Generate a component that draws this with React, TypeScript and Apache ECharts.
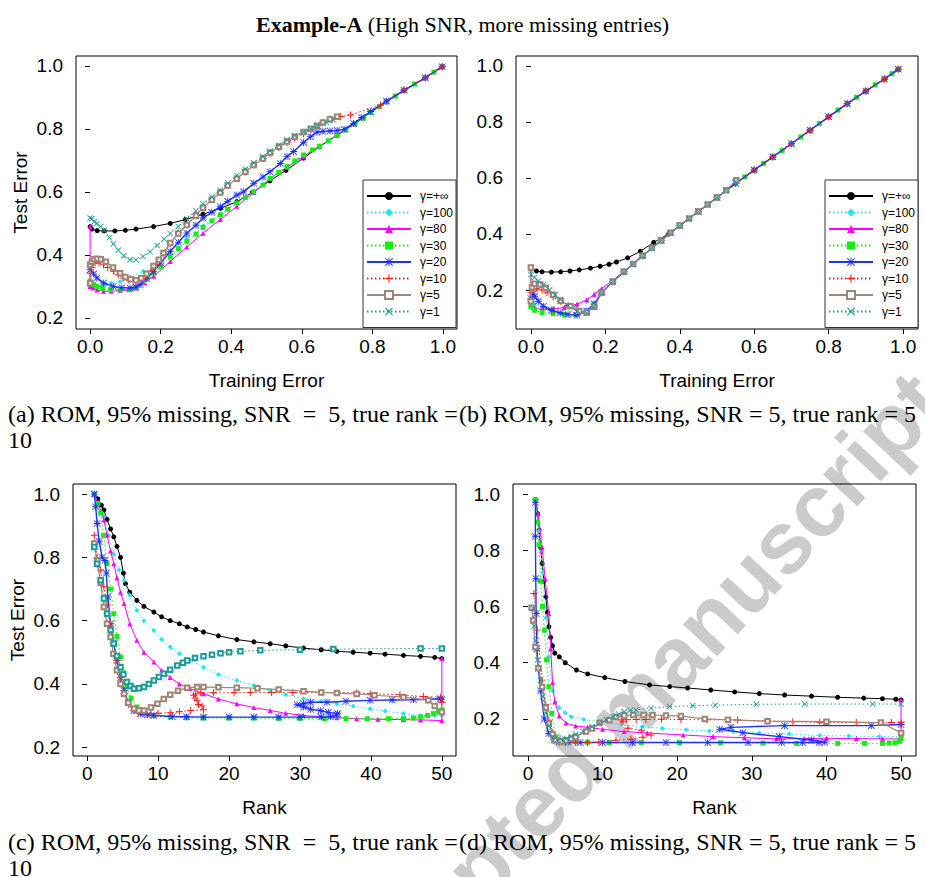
import React, { useEffect, useRef } from "react";
import * as echarts from "echarts";

// ---------- labels / ticks ----------
const NAMES = ["γ=+∞", "γ=100", "γ=80", "γ=30", "γ=20", "γ=10", "γ=5", "γ=1"];
const ERR_TICKS = [0, 0.2, 0.4, 0.6, 0.8, 1.0];
const Y_TICKS = [0.2, 0.4, 0.6, 0.8, 1.0];
const RANK_TICKS = [0, 10, 20, 30, 40, 50];
const CAPTIONS = [
  "(a) ROM, 95% missing, SNR\u2002=\u20025, true rank =",
  "(b) ROM, 95% missing, SNR = 5, true rank = 5",
  "(c) ROM, 95% missing, SNR\u2002=\u20025, true rank =",
  "(d) ROM, 95% missing, SNR = 5, true rank = 5",
];

// ---------- panel (a): test vs training error, true rank 10 ----------
const A_INF = [[0,0.49],[0.005,0.482],[0.02,0.477],[0.04,0.476],[0.07,0.476],[0.10,0.478],[0.13,0.482],[0.18,0.49],[0.227,0.50],[0.27,0.512],[0.32,0.529],[0.37,0.548],[0.416,0.569],[0.46,0.598],[0.51,0.635],[0.555,0.668],[0.605,0.707],[0.65,0.743],[0.70,0.78],[0.75,0.816],[0.795,0.852],[0.84,0.886],[0.89,0.922],[0.95,0.962],[0.998,0.997]];
const A_100 = [[0,0.30],[0.01,0.303],[0.038,0.305],[0.06,0.31],[0.085,0.316],[0.113,0.329],[0.151,0.348],[0.19,0.385],[0.227,0.411],[0.274,0.455],[0.32,0.492],[0.369,0.53],[0.416,0.566],[0.464,0.603],[0.51,0.642],[0.558,0.68],[0.605,0.714],[0.65,0.745],[0.70,0.78],[0.75,0.816],[0.795,0.852],[0.84,0.886],[0.89,0.922],[0.95,0.962],[0.998,0.997]];
const A_80 = [[0,0.49],[0,0.30],[0.009,0.295],[0.02,0.289],[0.038,0.285],[0.06,0.285],[0.085,0.287],[0.11,0.29],[0.13,0.295],[0.155,0.312],[0.18,0.332],[0.227,0.379],[0.274,0.425],[0.32,0.469],[0.369,0.512],[0.416,0.554],[0.464,0.598],[0.51,0.643],[0.558,0.678],[0.605,0.712],[0.65,0.745],[0.70,0.78],[0.75,0.816],[0.795,0.852],[0.84,0.886],[0.89,0.922],[0.95,0.962],[0.998,0.997]];
const A_30 = [[0,0.316],[0.01,0.306],[0.019,0.30],[0.035,0.294],[0.057,0.29],[0.085,0.289],[0.113,0.29],[0.13,0.296],[0.151,0.316],[0.165,0.33],[0.18,0.342],[0.2,0.362],[0.227,0.395],[0.25,0.42],[0.274,0.443],[0.3,0.466],[0.32,0.487],[0.345,0.508],[0.369,0.527],[0.39,0.545],[0.416,0.564],[0.44,0.582],[0.464,0.60],[0.49,0.622],[0.51,0.643],[0.535,0.662],[0.558,0.68],[0.58,0.698],[0.605,0.717],[0.63,0.733],[0.65,0.745],[0.675,0.762],[0.70,0.78],[0.725,0.797],[0.75,0.816],[0.775,0.834],[0.795,0.852],[0.82,0.87],[0.84,0.886],[0.865,0.904],[0.89,0.922],[0.92,0.942],[0.95,0.962],[0.975,0.98],[0.998,0.997]];
const A_20 = [[0,0.353],[0.01,0.34],[0.019,0.327],[0.038,0.311],[0.066,0.30],[0.09,0.296],[0.113,0.295],[0.13,0.298],[0.142,0.306],[0.16,0.325],[0.18,0.348],[0.2,0.375],[0.227,0.411],[0.25,0.44],[0.274,0.469],[0.3,0.494],[0.32,0.517],[0.345,0.535],[0.369,0.553],[0.39,0.57],[0.416,0.59],[0.435,0.60],[0.464,0.627],[0.49,0.647],[0.51,0.664],[0.539,0.69],[0.558,0.712],[0.577,0.728],[0.605,0.757],[0.625,0.775],[0.643,0.789],[0.66,0.792],[0.68,0.793],[0.70,0.795],[0.72,0.798],[0.747,0.817],[0.77,0.836],[0.795,0.855],[0.84,0.888],[0.89,0.922],[0.95,0.962],[0.998,0.997]];
const A_10 = [[0,0.342],[0.005,0.36],[0.014,0.374],[0.025,0.374],[0.038,0.369],[0.05,0.36],[0.066,0.348],[0.08,0.337],[0.095,0.327],[0.11,0.32],[0.13,0.316],[0.145,0.32],[0.16,0.332],[0.175,0.35],[0.19,0.369],[0.21,0.405],[0.227,0.435],[0.25,0.47],[0.274,0.498],[0.3,0.528],[0.32,0.55],[0.345,0.575],[0.369,0.598],[0.39,0.62],[0.416,0.643],[0.44,0.662],[0.464,0.685],[0.49,0.705],[0.51,0.722],[0.535,0.74],[0.558,0.757],[0.58,0.77],[0.605,0.784],[0.625,0.797],[0.643,0.807],[0.66,0.82],[0.68,0.831],[0.71,0.839],[0.738,0.844],[0.823,0.875],[0.89,0.924],[0.95,0.962],[0.998,0.997]];
const A_5 = [[0,0.31],[0,0.37],[0.005,0.378],[0.012,0.386],[0.02,0.388],[0.03,0.386],[0.045,0.378],[0.065,0.36],[0.085,0.342],[0.1,0.33],[0.115,0.323],[0.13,0.32],[0.145,0.326],[0.16,0.34],[0.18,0.365],[0.195,0.385],[0.208,0.406],[0.227,0.438],[0.25,0.468],[0.274,0.495],[0.3,0.524],[0.32,0.55],[0.345,0.575],[0.369,0.598],[0.39,0.62],[0.416,0.642],[0.44,0.664],[0.464,0.685],[0.49,0.706],[0.51,0.724],[0.535,0.743],[0.558,0.76],[0.58,0.775],[0.605,0.79],[0.625,0.8],[0.643,0.81],[0.66,0.82],[0.68,0.83],[0.70,0.838]];
const A_1 = [[0,0.517],[0.005,0.515],[0.012,0.505],[0.019,0.50],[0.03,0.49],[0.04,0.478],[0.055,0.455],[0.066,0.435],[0.08,0.415],[0.095,0.397],[0.113,0.385],[0.13,0.384],[0.15,0.395],[0.17,0.41],[0.19,0.43],[0.21,0.45],[0.227,0.468],[0.25,0.49],[0.274,0.515],[0.3,0.54],[0.32,0.562],[0.345,0.584],[0.369,0.605],[0.39,0.628],[0.416,0.652],[0.44,0.672],[0.464,0.692],[0.49,0.712],[0.51,0.73],[0.535,0.748],[0.558,0.765],[0.58,0.778],[0.605,0.79],[0.625,0.8],[0.643,0.81],[0.67,0.82],[0.69,0.828]];

// ---------- panel (b): test vs training error, true rank 5 ----------
const B_INF = [[0,0.276],[0.015,0.268],[0.03,0.265],[0.055,0.264],[0.08,0.265],[0.105,0.268],[0.13,0.272],[0.16,0.278],[0.186,0.285],[0.21,0.292],[0.23,0.30],[0.26,0.315],[0.294,0.338],[0.33,0.37],[0.37,0.40],[0.40,0.43],[0.45,0.48],[0.5,0.53],[0.55,0.58],[0.6,0.628],[0.65,0.675],[0.7,0.722],[0.75,0.77],[0.8,0.818],[0.85,0.865],[0.9,0.91],[0.95,0.953],[0.987,0.988]];
const B_100 = [[0,0.16],[0.01,0.15],[0.03,0.14],[0.06,0.135],[0.09,0.138],[0.12,0.143],[0.15,0.158],[0.17,0.18],[0.19,0.2],[0.22,0.232],[0.25,0.265],[0.3,0.322],[0.35,0.377],[0.4,0.43],[0.45,0.48],[0.5,0.53],[0.55,0.58],[0.6,0.628],[0.65,0.675],[0.7,0.722],[0.75,0.77],[0.8,0.818],[0.85,0.865],[0.9,0.91],[0.95,0.953],[0.987,0.988]];
const B_80 = [[0,0.276],[0,0.148],[0.01,0.138],[0.03,0.13],[0.06,0.132],[0.09,0.138],[0.124,0.15],[0.15,0.165],[0.17,0.185],[0.19,0.205],[0.22,0.235],[0.25,0.265],[0.3,0.322],[0.35,0.377],[0.4,0.43],[0.45,0.48],[0.5,0.53],[0.55,0.58],[0.6,0.628],[0.65,0.675],[0.7,0.722],[0.75,0.77],[0.8,0.818],[0.85,0.865],[0.9,0.91],[0.95,0.953],[0.987,0.988]];
const B_30 = [[0,0.14],[0.01,0.128],[0.03,0.12],[0.06,0.116],[0.09,0.113],[0.12,0.112],[0.15,0.125],[0.17,0.15],[0.19,0.19],[0.22,0.23],[0.25,0.265],[0.275,0.293],[0.3,0.322],[0.325,0.35],[0.35,0.377],[0.375,0.404],[0.4,0.43],[0.425,0.455],[0.45,0.48],[0.475,0.505],[0.5,0.53],[0.525,0.555],[0.55,0.58],[0.575,0.604],[0.6,0.628],[0.625,0.652],[0.65,0.675],[0.675,0.698],[0.7,0.722],[0.725,0.746],[0.75,0.77],[0.775,0.794],[0.8,0.818],[0.825,0.842],[0.85,0.865],[0.875,0.888],[0.9,0.91],[0.925,0.932],[0.95,0.953],[0.97,0.972],[0.987,0.988]];
const B_20 = [[0,0.17],[0.005,0.185],[0.01,0.178],[0.02,0.16],[0.034,0.142],[0.055,0.128],[0.079,0.118],[0.1,0.113],[0.124,0.11],[0.15,0.125],[0.17,0.15],[0.19,0.19],[0.22,0.23],[0.25,0.265],[0.3,0.322],[0.35,0.377],[0.4,0.43],[0.45,0.48],[0.5,0.53],[0.55,0.58],[0.6,0.628],[0.65,0.675],[0.7,0.722],[0.75,0.77],[0.8,0.818],[0.85,0.865],[0.9,0.91],[0.95,0.953],[0.987,0.988]];
const B_10 = [[0,0.19],[0.008,0.2],[0.016,0.205],[0.03,0.2],[0.043,0.19],[0.06,0.175],[0.079,0.16],[0.1,0.145],[0.124,0.13],[0.15,0.12],[0.17,0.14],[0.19,0.19],[0.22,0.23],[0.25,0.265],[0.3,0.322],[0.35,0.377],[0.4,0.43],[0.45,0.48],[0.5,0.53],[0.55,0.58],[0.6,0.628],[0.65,0.675],[0.7,0.722],[0.75,0.77],[0.8,0.818],[0.85,0.865],[0.9,0.91],[0.95,0.953],[0.987,0.988]];
const B_5 = [[0,0.28],[0,0.16],[0.003,0.21],[0.01,0.222],[0.025,0.22],[0.04,0.208],[0.06,0.183],[0.08,0.162],[0.106,0.142],[0.13,0.125],[0.15,0.12],[0.17,0.14],[0.19,0.19],[0.22,0.23],[0.25,0.265],[0.275,0.293],[0.3,0.322],[0.325,0.35],[0.35,0.377],[0.375,0.404],[0.4,0.43],[0.425,0.455],[0.45,0.48],[0.475,0.505],[0.5,0.53],[0.525,0.556],[0.552,0.592]];
const B_1 = [[0,0.255],[0.01,0.245],[0.02,0.232],[0.034,0.219],[0.05,0.2],[0.065,0.183],[0.079,0.166],[0.1,0.145],[0.124,0.124],[0.15,0.118],[0.17,0.14],[0.19,0.19],[0.22,0.23],[0.25,0.265],[0.275,0.293],[0.3,0.322],[0.325,0.35],[0.35,0.377],[0.375,0.404],[0.4,0.43],[0.425,0.455],[0.45,0.48],[0.475,0.505],[0.5,0.53],[0.525,0.556],[0.55,0.588]];

// ---------- panel (c): test error vs rank, true rank 10 ----------
const C_INF = [[1,1.0],[1.5,0.985],[2,0.965],[2.35,0.95],[2.8,0.92],[3.3,0.89],[3.75,0.865],[4.2,0.835],[4.7,0.80],[5.1,0.75],[5.4,0.717],[6,0.69],[7,0.664],[8,0.645],[9.4,0.627],[10.5,0.612],[11.7,0.60],[13,0.59],[14.1,0.58],[15.3,0.572],[16.4,0.564],[18.5,0.552],[21.1,0.54],[23.5,0.533],[25.8,0.527],[28,0.52],[30.5,0.513],[33,0.508],[35.2,0.503],[37.5,0.5],[39.9,0.497],[42,0.494],[44.6,0.49],[47,0.487],[49,0.484],[50,0.48]];
const C_100 = [[1,1.0],[1.5,0.97],[2.35,0.93],[3,0.87],[3.75,0.81],[4.5,0.76],[5.2,0.727],[6,0.68],[7,0.633],[8,0.6],[9.4,0.569],[10.5,0.54],[11.7,0.517],[13,0.495],[14.5,0.475],[16.4,0.453],[18.5,0.43],[21.1,0.411],[23.5,0.395],[25.8,0.379],[28,0.366],[30.5,0.353],[33,0.345],[35.2,0.337],[37.5,0.33],[39.9,0.321],[42,0.314],[44.6,0.306],[47,0.30],[49,0.30],[50,0.30]];
const C_80 = [[1,1.0],[1.5,0.97],[2,0.945],[2.35,0.918],[2.8,0.87],[3.3,0.82],[3.75,0.78],[4.2,0.735],[4.7,0.69],[5.2,0.654],[6,0.59],[7,0.538],[8,0.5],[9.4,0.469],[10.5,0.443],[11.7,0.42],[13,0.40],[14.5,0.385],[16.4,0.369],[18.5,0.352],[21.1,0.337],[23.5,0.325],[25.8,0.316],[28,0.307],[30.5,0.30],[33,0.296],[35.2,0.293],[38,0.29],[41,0.288],[44.6,0.287],[47,0.286],[50,0.284],[50,0.48]];
const C_30 = [[1,1.0],[1.5,0.97],[1.9,0.94],[2.3,0.87],[2.8,0.78],[3.3,0.7],[3.75,0.622],[4.2,0.55],[4.7,0.485],[5.1,0.435],[5.6,0.39],[6.2,0.355],[7,0.327],[8,0.31],[9.4,0.30],[11.7,0.295],[14,0.293],[16.4,0.292],[20,0.292],[23.5,0.292],[27,0.291],[30,0.291],[33.5,0.29],[36.5,0.29],[39.5,0.29],[42.5,0.29],[44.6,0.29],[46,0.292],[47,0.295],[48,0.3],[48.8,0.306],[49.5,0.312],[50,0.318]];
const C_20 = [[1,1.0],[1.2,0.96],[1.4,0.907],[1.7,0.85],[2.1,0.80],[2.5,0.79],[2.7,0.75],[2.9,0.675],[3.3,0.59],[3.7,0.53],[4.2,0.474],[4.7,0.42],[5.2,0.379],[5.8,0.34],[6.6,0.316],[7.5,0.305],[8.5,0.302],[9.4,0.30],[12,0.297],[14,0.296],[16.4,0.295],[20,0.295],[23.5,0.295],[27,0.295],[30,0.295],[33,0.295],[34.3,0.296],[35.2,0.302],[35.3,0.306],[34,0.31],[32.9,0.315],[31.5,0.32],[30.5,0.327],[29.6,0.334],[30.5,0.338],[31.5,0.342],[33.8,0.342],[36.5,0.345],[39.9,0.348],[43,0.349],[46,0.35],[49.8,0.353],[50,0.35]];
const C_10 = [[1,0.87],[1.4,0.80],[1.9,0.76],[2.35,0.707],[2.8,0.65],[3.3,0.59],[3.7,0.53],[4.2,0.474],[4.7,0.42],[5.2,0.369],[5.8,0.335],[6.6,0.316],[7.2,0.31],[8,0.307],[9,0.306],[10,0.307],[11.7,0.309],[13,0.312],[14.6,0.316],[16.4,0.318],[16.2,0.33],[15.7,0.335],[15.5,0.348],[15.2,0.355],[15,0.364],[15.3,0.368],[16,0.372],[17.8,0.372],[20.7,0.372],[23,0.373],[26,0.373],[29,0.373],[33,0.373],[38,0.372],[39.9,0.369],[44.1,0.366],[47.4,0.36],[49.8,0.358],[50,0.342]];
const C_5 = [[1,0.844],[1.4,0.79],[1.9,0.72],[2.35,0.643],[2.8,0.59],[3.3,0.548],[3.7,0.495],[4.2,0.443],[4.7,0.4],[5.2,0.369],[5.8,0.34],[6.6,0.321],[7.3,0.316],[8,0.316],[9,0.325],[9.9,0.337],[10.8,0.352],[11.7,0.366],[12.8,0.378],[14.1,0.388],[15.5,0.39],[16.4,0.39],[18.5,0.389],[21.1,0.388],[24,0.386],[27,0.382],[30.5,0.377],[33,0.373],[35.2,0.371],[38,0.368],[40.5,0.364],[44.6,0.358],[48.1,0.348],[49,0.33],[50,0.311]];
const C_1 = [[1,0.833],[1.4,0.78],[1.9,0.728],[2.35,0.67],[2.8,0.622],[3.3,0.57],[3.75,0.527],[4.2,0.488],[4.7,0.453],[5.1,0.43],[5.6,0.406],[6.1,0.393],[6.6,0.385],[7.3,0.386],[8,0.39],[8.7,0.40],[9.4,0.411],[10.1,0.422],[10.8,0.432],[11.7,0.445],[12.7,0.458],[13.5,0.467],[14.1,0.474],[15.2,0.482],[16.4,0.487],[17.6,0.492],[18.8,0.497],[20,0.5],[21.6,0.503],[24.4,0.506],[30,0.508],[34.7,0.51],[47,0.512],[50,0.512]];

// ---------- panel (d): test error vs rank, true rank 5 ----------
const D_INF = [[1,0.98],[1.3,0.93],[1.5,0.872],[1.7,0.81],[1.9,0.753],[2.15,0.69],[2.4,0.634],[2.6,0.58],[2.8,0.528],[3.05,0.49],[3.3,0.46],[3.6,0.434],[4.2,0.421],[5,0.40],[6.5,0.374],[8,0.36],[10.3,0.347],[13,0.333],[16.3,0.321],[19,0.315],[21.4,0.31],[24.5,0.303],[27.7,0.296],[31,0.29],[34.4,0.285],[38,0.281],[41.5,0.277],[45,0.274],[47.5,0.272],[49.3,0.27],[50,0.268]];
const D_100 = [[1,0.97],[1.5,0.87],[2,0.72],[2.4,0.56],[2.8,0.42],[3.3,0.3],[3.7,0.26],[4.2,0.24],[5,0.222],[5.8,0.208],[7.5,0.198],[9.6,0.19],[12.5,0.18],[15.4,0.173],[18,0.166],[21.2,0.161],[24.3,0.157],[27.5,0.155],[31,0.15],[35,0.146],[39.1,0.141],[43,0.139],[47.1,0.137],[50,0.136]];
const D_80 = [[1,0.98],[1.4,0.93],[1.9,0.81],[2.3,0.7],[2.8,0.575],[3.05,0.45],[3.3,0.33],[3.6,0.26],[4.2,0.21],[5.1,0.185],[6.4,0.175],[8,0.17],[10,0.163],[12.9,0.155],[16,0.15],[20.8,0.143],[24.8,0.137],[29,0.133],[33.3,0.129],[37,0.13],[40,0.131],[44,0.13],[47.5,0.129],[50,0.129],[50,0.268]];
const D_30 = [[1,0.98],[1.3,0.9],[1.5,0.82],[1.7,0.69],[1.95,0.6],[2.2,0.516],[2.5,0.41],[2.8,0.314],[3.2,0.22],[3.7,0.136],[4.5,0.122],[5.5,0.119],[6.4,0.118],[8,0.117],[10.9,0.116],[15.2,0.116],[20.3,0.116],[25.8,0.115],[31.5,0.114],[36,0.113],[41.5,0.113],[45.1,0.113],[47.5,0.113],[48.4,0.114],[49.2,0.115],[49.8,0.12],[50,0.131]];
const D_20 = [[1,0.97],[1,0.85],[1.05,0.7],[1.1,0.575],[1.2,0.45],[1.4,0.38],[1.7,0.3],[2.2,0.2],[2.8,0.148],[3.5,0.125],[4.2,0.118],[5.4,0.117],[7,0.116],[10,0.116],[14,0.116],[18.5,0.116],[24.1,0.116],[29.5,0.116],[34,0.116],[36.8,0.116],[39,0.116],[39.8,0.117],[38,0.125],[33.7,0.137],[28.8,0.151],[25.7,0.163],[27.2,0.17],[34.4,0.176],[46,0.176],[50,0.18]];
const D_10 = [[0.8,0.646],[1.25,0.516],[1.9,0.338],[2.4,0.25],[2.8,0.195],[3.3,0.15],[4.2,0.118],[5,0.115],[6.4,0.115],[8,0.116],[9.5,0.117],[11.8,0.124],[13.8,0.128],[15.4,0.135],[16.5,0.143],[15.2,0.16],[13.4,0.167],[12.7,0.19],[12.5,0.196],[13.2,0.197],[14.5,0.198],[15.8,0.198],[17.9,0.199],[20.5,0.198],[24,0.197],[28.1,0.196],[32,0.193],[35.5,0.19],[39.1,0.188],[44,0.187],[48.7,0.187],[50,0.186]];
const D_5 = [[0.5,0.596],[0.7,0.55],[1,0.456],[1.4,0.38],[1.9,0.314],[2.4,0.24],[2.8,0.183],[3.3,0.145],[3.7,0.124],[4.4,0.12],[5.1,0.124],[5.8,0.13],[6.4,0.136],[7.8,0.155],[8.6,0.166],[9.6,0.186],[10.9,0.195],[11.8,0.208],[12.9,0.212],[14.1,0.214],[15.5,0.214],[16.7,0.214],[18.5,0.212],[20.5,0.21],[23.7,0.2],[26.8,0.197],[32.1,0.192],[40,0.19],[47.3,0.187],[50,0.15]];
const D_1 = [[0.7,0.593],[0.85,0.53],[1,0.48],[1.3,0.41],[1.7,0.338],[2,0.28],[2.4,0.219],[2.8,0.175],[3.3,0.136],[3.9,0.125],[4.6,0.124],[5.2,0.13],[5.8,0.137],[6.4,0.145],[7.4,0.155],[8.6,0.172],[9.6,0.186],[10.5,0.198],[11.4,0.208],[12.2,0.217],[12.9,0.226],[13.7,0.23],[14.5,0.232],[16.5,0.238],[19,0.244],[22.1,0.247],[25.1,0.249],[30.6,0.252],[37.1,0.253],[46.2,0.253],[50,0.253]];

const PANELS = [
  [A_INF, A_100, A_80, A_30, A_20, A_10, A_5, A_1],
  [B_INF, B_100, B_80, B_30, B_20, B_10, B_5, B_1],
  [C_INF, C_100, C_80, C_30, C_20, C_10, C_5, C_1],
  [D_INF, D_100, D_80, D_30, D_20, D_10, D_5, D_1],
];

// ---------- styles ----------
const COLORS = ["#000000", "#22e4f4", "#ff00ff", "#12ee12", "#1f2fff", "#ff1a1a", "#a08474", "#1e9a9a"];
const DOTTED = [false, true, false, true, false, true, false, true];
const WIDTHS = [1, 1, 1, 1, 1.4, 1, 1.2, 1];
const ASTER = "path://M4.4,0H5.6V10H4.4Z M0,4.4H10V5.6H0Z M0.8,0L10,9.2L9.2,10L0,0.8Z M9.2,0L10,0.8L0.8,10L0,9.2Z";
const PLUS = "path://M4.3,0H5.7V4.3H10V5.7H5.7V10H4.3V5.7H0V4.3H4.3Z";
const XSYM = "path://M0,1L1,0L5,4L9,0L10,1L6,5L10,9L9,10L5,6L1,10L0,9L4,5Z";
const SYMBOLS = ["circle", "diamond", "triangle", "rect", ASTER, PLUS, "emptyRect", XSYM];
const SIZES = [5, 5, 5, 5, 7, 7, 5, 6];

const GRIDS = [
  { left: 76, top: 56, width: 381, height: 273 },
  { left: 516, top: 56, width: 402, height: 273 },
  { left: 73, top: 484, width: 383, height: 272 },
  { left: 513, top: 484, width: 403, height: 272 },
];
const Y_RANGES = [[0.165, 1.031], [0.061, 1.035], [0.172, 1.032], [0.068, 1.036]];

const SANS = "'Liberation Sans', Arial, sans-serif";
const SERIF = "'Liberation Serif', 'Times New Roman', serif";

export default function App() {
  const ref = useRef<HTMLDivElement>(null);
  useEffect(() => {
    document.body.style.margin = "0";
    if (!ref.current) return;
    const chart = echarts.init(ref.current, undefined, { renderer: "svg" });

    const xAxis = [0, 1, 2, 3].map((p) => {
      const isRank = p >= 2;
      const ticks = isRank ? RANK_TICKS : ERR_TICKS;
      return {
        type: "value",
        gridIndex: p,
        min: isRank ? -2 : -0.04,
        max: isRank ? 52 : 1.04,
        name: isRank ? "Rank" : "Training Error",
        nameLocation: "middle",
        nameGap: 42,
        nameTextStyle: { fontFamily: SANS, fontSize: 19, color: "#000" },
        axisLine: { show: false },
        splitLine: { show: false },
        axisTick: { show: true, customValues: ticks, length: 5, lineStyle: { color: "#000", width: 1 } },
        axisLabel: {
          customValues: ticks,
          margin: 8,
          fontFamily: SANS,
          fontSize: 19,
          color: "#000",
          formatter: (v: number) => (isRank ? String(Math.round(v)) : v.toFixed(1)),
        },
      };
    });
    const yAxis = [0, 1, 2, 3].map((p) => ({
      type: "value",
      gridIndex: p,
      min: Y_RANGES[p][0],
      max: Y_RANGES[p][1],
      name: p === 0 || p === 2 ? "Test Error" : "",
      nameLocation: "middle",
      nameGap: 46,
      nameRotate: 90,
      nameTextStyle: { fontFamily: SANS, fontSize: 19, color: "#000" },
      axisLine: { show: false },
      splitLine: { show: false },
      axisTick: { show: true, customValues: Y_TICKS, length: 5, lineStyle: { color: "#000", width: 1 } },
      axisLabel: {
        customValues: Y_TICKS,
        margin: 13,
        fontFamily: SANS,
        fontSize: 19,
        color: "#000",
        formatter: (v: number) => v.toFixed(1),
      },
    }));

    const series: any[] = [];
    PANELS.forEach((panel, p) => {
      panel.forEach((data, i) => {
        const sym = p === 2 && i === 7 ? "emptyRect" : SYMBOLS[i];
        series.push({
          type: "line",
          name: NAMES[i],
          xAxisIndex: p,
          yAxisIndex: p,
          data,
          symbol: sym,
          symbolSize: sym === "emptyRect" ? 4.5 : SIZES[i],
          showSymbol: true,
          silent: true,
          lineStyle: { color: COLORS[i], width: WIDTHS[i], type: DOTTED[i] ? [1.5, 2.5] : "solid" },
          itemStyle: { color: COLORS[i], borderWidth: sym === "emptyRect" ? 1 : 0 },
          z: 2 + i * 0.01,
        });
      });
    });

    const legendBase = {
      orient: "vertical",
      top: 180,
      data: NAMES,
      itemWidth: 44,
      itemHeight: 10,
      itemGap: 4.5,
      padding: [10, 3, 10, 3],
      borderColor: "#333",
      borderWidth: 1,
      backgroundColor: "#fff",
      selectedMode: false,
      textStyle: { fontSize: 12, fontFamily: SANS, color: "#000", padding: [0, 0, 0, 4] },
    };

    const rot = (47 * Math.PI) / 180;
    const wmFont = "bold 88px 'Liberation Sans', Arial, sans-serif";
    const WX = 604, WY = 733;
    const graphic: any[] = [
      { type: "text", x: WX, y: WY, rotation: rot, z: -10, silent: true, style: { text: "Accepted ", font: wmFont, fill: "#cbcbcb", align: "right", verticalAlign: "middle" } },
      { type: "text", x: WX, y: WY, rotation: rot, z: -10, silent: true, style: { text: "manuscript", font: wmFont, fill: "#cbcbcb", align: "left", verticalAlign: "middle" } },
      { type: "text", left: 8, top: 402, style: { text: CAPTIONS[0], font: `24px ${SERIF}`, fill: "#000" } },
      { type: "text", left: 8, top: 428, style: { text: "10", font: `24px ${SERIF}`, fill: "#000" } },
      { type: "text", left: 459, top: 402, style: { text: CAPTIONS[1], font: `24px ${SERIF}`, fill: "#000" } },
      { type: "text", left: 8, top: 830, style: { text: CAPTIONS[2], font: `24px ${SERIF}`, fill: "#000" } },
      { type: "text", left: 8, top: 856, style: { text: "10", font: `24px ${SERIF}`, fill: "#000" } },
      { type: "text", left: 459, top: 830, style: { text: CAPTIONS[3], font: `24px ${SERIF}`, fill: "#000" } },
    ];

    chart.setOption({
      animation: false,
      backgroundColor: "#fff",
      title: {
        text: "{b|Example-A} (High SNR, more missing entries)",
        left: "center",
        top: 8,
        textStyle: {
          fontFamily: SERIF,
          fontSize: 22,
          fontWeight: "normal",
          color: "#000",
          rich: { b: { fontFamily: SERIF, fontSize: 22, fontWeight: "bold", color: "#000" } },
        },
      },
      grid: GRIDS.map((g) => ({ ...g, show: true, borderColor: "#000", borderWidth: 1, backgroundColor: "transparent", containLabel: false })),
      xAxis,
      yAxis,
      legend: [
        { ...legendBase, left: 363 },
        { ...legendBase, left: 825 },
      ],
      graphic,
      series,
    });
    return () => chart.dispose();
  }, []);
  return <div ref={ref} style={{ width: 925, height: 877 }} />;
}
